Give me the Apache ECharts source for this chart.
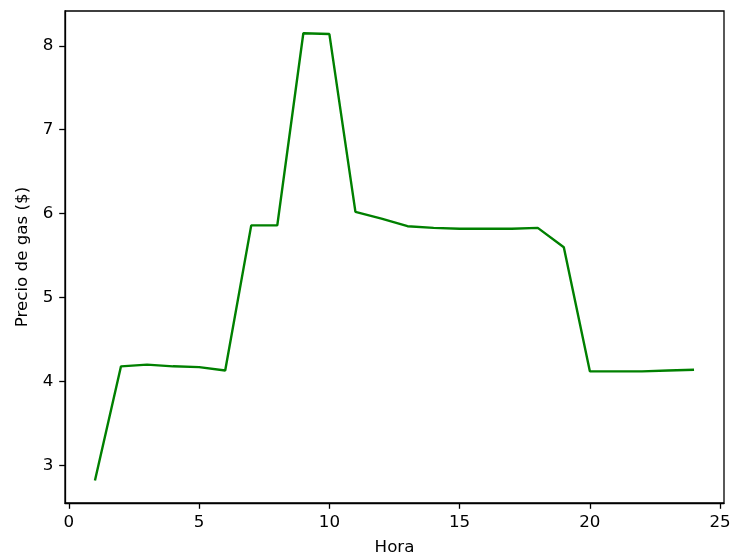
<!DOCTYPE html>
<html>
<head>
<meta charset="utf-8">
<script src="https://cdn.jsdelivr.net/npm/echarts@6/dist/echarts.min.js"></script>
<style>
html,body{margin:0;padding:0;background:#fff;}
#chart{width:734px;height:560px;}
</style>
</head>
<body>
<div id="chart"></div>
<script>
const hours = [1,2,3,4,5,6,7,8,9,10,11,12,13,14,15,16,17,18,19,20,21,22,23,24];
const prices = [2.82,4.18,4.20,4.18,4.17,4.13,5.86,5.86,8.15,8.14,6.02,5.94,5.85,5.83,5.82,5.82,5.82,5.83,5.60,4.12,4.12,4.12,4.13,4.14];
const xTicks = [0,5,10,15,20,25];
const yTicks = [3,4,5,6,7,8];
const xLabel = 'Hora';
const yLabel = 'Precio de gas ($)';

const chart = echarts.init(document.getElementById('chart'), null, {renderer:'canvas'});
const font = 'DejaVu Sans';
const fs = 16.7;
chart.setOption({
  animation:false,
  backgroundColor:'#fff',
  grid:{left:65, right:10, top:11, bottom:57, containLabel:false, outerBoundsMode:'none',
        show:true, borderColor:'#000', borderWidth:1.3, backgroundColor:'transparent'},
  xAxis:{
    type:'value', min:-0.15, max:25.15,
    name:xLabel, nameLocation:'middle', nameGap:36.5,
    nameTextStyle:{color:'#000', fontFamily:font, fontSize:fs},
    axisLine:{show:true, onZero:false, lineStyle:{color:'#000', width:1.3}},
    axisTick:{show:true, customValues:xTicks, length:5.8, lineStyle:{color:'#000', width:1.3}},
    axisLabel:{customValues:xTicks, color:'#000', fontFamily:font, fontSize:fs, margin:11.6},
    splitLine:{show:false}
  },
  yAxis:{
    type:'value', min:2.551, max:8.415,
    name:yLabel, nameLocation:'middle', nameGap:34,
    nameTextStyle:{color:'#000', fontFamily:font, fontSize:fs},
    axisLine:{show:true, onZero:false, lineStyle:{color:'#000', width:1.3}},
    axisTick:{show:true, customValues:yTicks, length:5.8, lineStyle:{color:'#000', width:1.3}},
    axisLabel:{customValues:yTicks, color:'#000', fontFamily:font, fontSize:fs, margin:11.6},
    splitLine:{show:false}
  },
  series:[{
    type:'line',
    data:hours.map((h,i)=>[h,prices[i]]),
    showSymbol:false,
    lineStyle:{color:'#008000', width:2.4},
    itemStyle:{color:'#008000'}
  }]
});
</script>
</body>
</html>
